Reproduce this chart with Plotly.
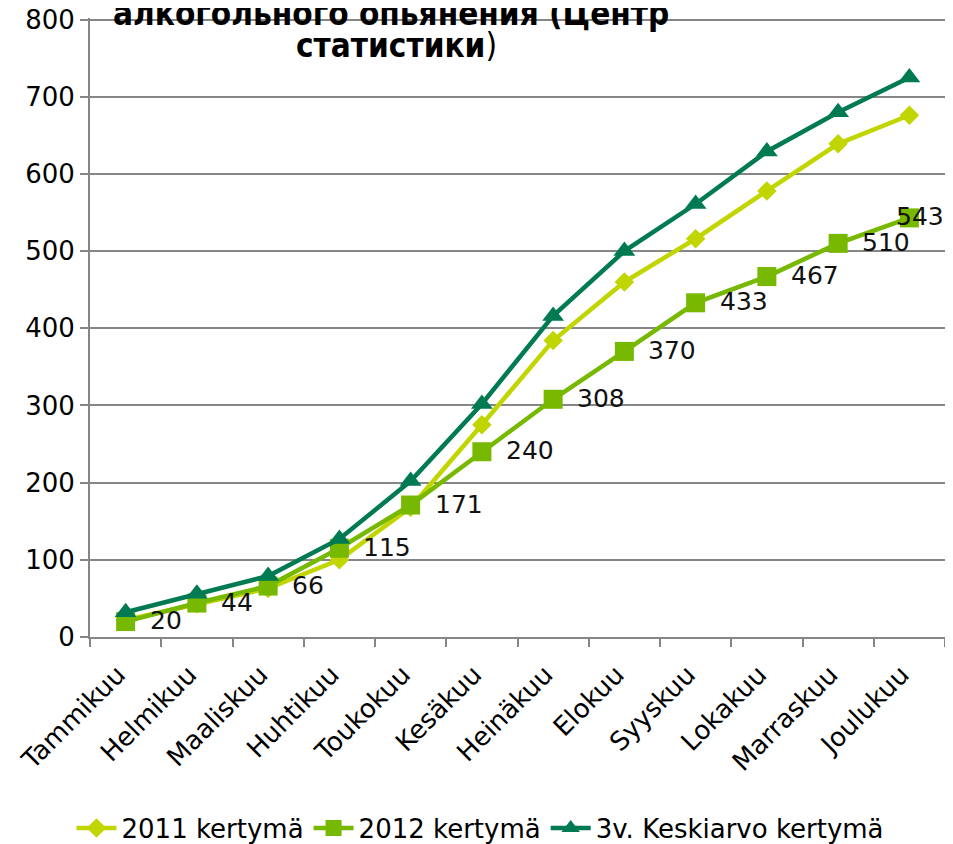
import plotly.graph_objects as go

months = ["Tammikuu", "Helmikuu", "Maaliskuu", "Huhtikuu", "Toukokuu", "Kesäkuu",
          "Heinäkuu", "Elokuu", "Syyskuu", "Lokakuu", "Marraskuu", "Joulukuu"]
kertyma_2011 = [22, 43, 63, 100, 168, 275, 384, 460, 516, 578, 639, 676]
kertyma_2012 = [20, 44, 66, 115, 171, 240, 308, 370, 433, 467, 510, 543]
keskiarvo_3v = [32, 56, 79, 127, 202, 302, 416, 500, 561, 629, 680, 725]

title_line1 = "алкогольного опьянения (Центр"
title_line2 = "статистики"

FONT = "DejaVu Sans, Verdana, sans-serif"
TITLE_FONT = "DejaVu Sans Condensed, Liberation Sans Narrow, DejaVu Sans, sans-serif"
GRID = "#868686"

fig = go.Figure()
series = [
    ("2011 kertymä", kertyma_2011, "#C1D500", "diamond", 15),
    ("2012 kertymä", kertyma_2012, "#77B800", "square", 19),
    ("3v. Keskiarvo kertymä", keskiarvo_3v, "#007A53", "triangle-up", 19),
]
for name, values, color, symbol, size in series:
    fig.add_trace(go.Scatter(
        x=months, y=values, name=name, mode="lines+markers",
        line=dict(color=color, width=4.5),
        marker=dict(symbol=symbol, size=size, color=color),
    ))

# data labels for 2012
for i, (m, v) in enumerate(zip(months, kertyma_2012)):
    fig.add_annotation(
        x=m, y=v, text=str(v), showarrow=False,
        xanchor="left", yanchor="middle",
        xshift=-15 if i == len(months) - 1 else 22, yshift=1,
        font=dict(family=FONT, size=25, color="#111111"),
    )

fig.add_annotation(
    xref="paper", yref="paper", x=0.352, y=1.008, text="<b>" + title_line1 + "</b>",
    showarrow=False, xanchor="center", yanchor="middle",
    font=dict(family=TITLE_FONT, size=33, color="#000000"),
)
fig.add_annotation(
    xref="paper", yref="paper", x=0.3585, y=0.9548, text="<b>" + title_line2 + "</b>)",
    showarrow=False, xanchor="center", yanchor="middle",
    font=dict(family=TITLE_FONT, size=33, color="#000000"),
)

fig.update_layout(
    width=945, height=836,
    paper_bgcolor="white", plot_bgcolor="white",
    margin=dict(l=82, r=8, t=10, b=207, autoexpand=False),
    font=dict(family=FONT, size=26, color="#000000"),
    showlegend=True,
    legend=dict(orientation="h", xref="container", x=0.5, xanchor="center",
                yref="container", y=0.019, yanchor="middle",
                font=dict(family=FONT, size=26), itemwidth=40, tracegroupgap=0),
    xaxis=dict(
        automargin=False, range=[-0.5, len(months) - 0.5],
        showline=True, linecolor=GRID, linewidth=2,
        ticks="outside", tickson="boundaries", ticklen=8, tickcolor=GRID, tickwidth=2,
        tickangle=-45, tickfont=dict(family=FONT, size=26),
        ticklabelshift=-8, ticklabelstandoff=10,
        showgrid=False,
    ),
    yaxis=dict(
        automargin=False,
        range=[0, 802], dtick=100, tick0=0,
        showline=True, linecolor=GRID, linewidth=2,
        ticks="outside", ticklen=8, tickcolor=GRID, tickwidth=2,
        showgrid=True, gridcolor=GRID, gridwidth=2,
        zeroline=False, ticklabeloverflow="allow",
        tickfont=dict(family=FONT, size=26),
    ),
)

fig.write_html("out.html")
